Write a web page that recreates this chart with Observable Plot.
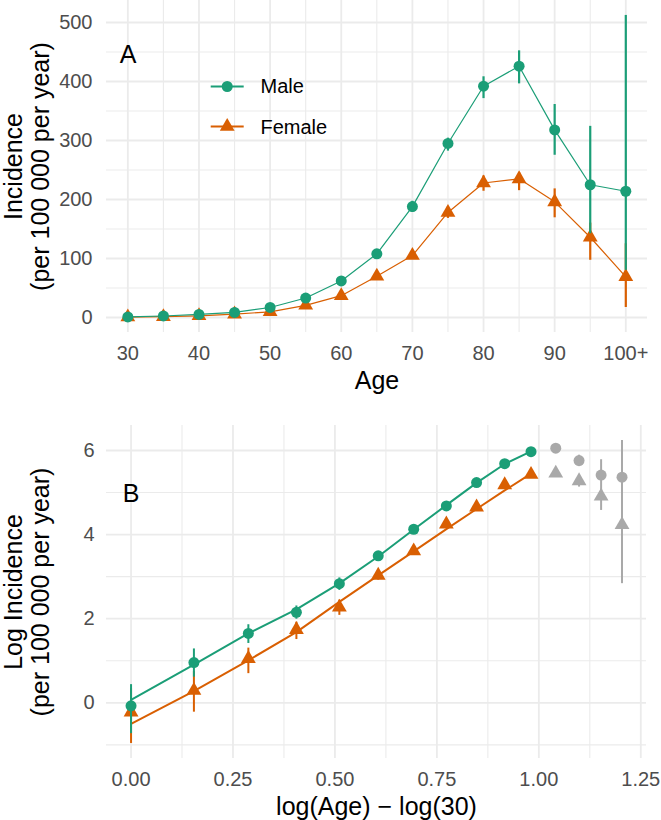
<!DOCTYPE html>
<html><head><meta charset="utf-8">
<script src="https://cdn.jsdelivr.net/npm/d3@7"></script>
<script src="https://cdn.jsdelivr.net/npm/@observablehq/plot@0.6"></script>
<style>body{margin:0;background:#fff} #chart svg{display:block}</style>
</head><body><div id="chart"></div>
<script>
// ---- data ----
const ages = [30,35,40,45,50,55,60,65,70,75,80,85,90,95,100];
const sexes = ["Male", "Female"];
const maleIncidence = [0.93,2.6,5.2,8.6,17,33,62,108,188,295,392,426,318,225,214];
const maleLower     = [0.48,1.84,4.1,7.3,14.5,30,58,102,178,282,371,396,275,142,80];
const maleUpper     = [1.54,3.6,6.4,10,19.5,36,66,114,197,304,408,452,361,324,512];
const femaleIncidence = [0.8,1.34,2.86,5.7,9.7,20.7,37,70,105,178,228,235,196,136,69];
const femaleLower     = [0.38,0.8,2.0,4.5,8.0,18.5,34,65,99,168,214,215,169,97,17];
const femaleUpper     = [1.4,2.1,3.67,6.8,11.5,23,40,75,112,188,240,246,218,160,125];
// fitted log incidence (panel B lines), ages 30–80
const fitMaxAge = 80;
const maleFit   = [0.07,0.91,1.65,2.22,2.84,3.48,4.12,4.70,5.23,5.68,5.98];
const femaleFit = [-0.50,0.28,1.01,1.68,2.40,3.03,3.60,4.13,4.61,5.05,5.45];
// ticks
const aXTicks = [30,40,50,60,70,80,90,100];
const aXTickLabels = ["30","40","50","60","70","80","90","100+"];
const aXMinor = [35,45,55,65,75,85,95];
const aYTicks = [0,100,200,300,400,500];
const aYMinor = [50,150,250,350,450];
const bXTicks = [0,0.25,0.5,0.75,1,1.25];
const bXTickLabels = ["0.00","0.25","0.50","0.75","1.00","1.25"];
const bXMinor = [0.125,0.375,0.625,0.875,1.125];
const bYTicks = [0,2,4,6];
const bYMinor = [-1,1,3,5];

const green = "#1b9e77", orange = "#d95f02", grey = "#a9a9a9", gridCol = "#ebebeb";
const font = "'Liberation Sans', Arial, Helvetica, sans-serif";

const rows = sex => ages.map((age, i) => sex === "Male"
  ? {sex, age, inc: maleIncidence[i], lo: maleLower[i], hi: maleUpper[i]}
  : {sex, age, inc: femaleIncidence[i], lo: femaleLower[i], hi: femaleUpper[i]});
const male = rows("Male"), female = rows("Female");
const lx = d => Math.log(d.age / 30);
const fitRows = (fit) => ages.filter(a => a <= fitMaxAge).map((age, i) => ({age, y: fit[i]}));

const lineSym = {draw(ctx) { ctx.moveTo(-16.5, 0); ctx.lineTo(16.5, 0); }};
const gridMarks = (xMaj, xMin, yMaj, yMin) => [
  Plot.ruleX(xMin, {stroke: gridCol, strokeWidth: 1.1}),
  Plot.ruleY(yMin, {stroke: gridCol, strokeWidth: 1.1}),
  Plot.ruleX(xMaj, {stroke: gridCol, strokeWidth: 1.8}),
  Plot.ruleY(yMaj, {stroke: gridCol, strokeWidth: 1.8})
];
const yTitle = (t) => Plot.text([t], {text: d => d, frameAnchor: "left", dx: -79.6, rotate: -90,
  fontSize: 25, lineHeight: 1.08, fill: "black", textAnchor: "middle", lineAnchor: "middle"});

const style = {fontFamily: font, fontSize: "20px", color: "#4d4d4d", background: "white", overflow: "visible"};

// ---- panel A ----
const plotA = Plot.plot({
  width: 661, height: 400,
  marginLeft: 106, marginRight: 14, marginTop: 0, marginBottom: 68,
  style,
  x: {domain: [27.0, 103.05], ticks: aXTicks, tickFormat: d => aXTickLabels[aXTicks.indexOf(d)], tickSize: 0, tickPadding: 13, label: null},
  y: {domain: [-25.4, 537.3], ticks: aYTicks, tickSize: 0, tickPadding: 14, label: null},
  marks: [
    ...gridMarks(aXTicks, aXMinor, aYTicks, aYMinor),
    Plot.ruleX(female, {x: "age", y1: "lo", y2: "hi", stroke: orange, strokeWidth: 2.2}),
    Plot.line(female, {x: "age", y: "inc", stroke: orange, strokeWidth: 1.2}),
    Plot.dot(female, {x: "age", y: "inc", symbol: "triangle", r: 5.5, fill: orange}),
    Plot.ruleX(male, {x: "age", y1: "lo", y2: "hi", stroke: green, strokeWidth: 2.2}),
    Plot.line(male, {x: "age", y: "inc", stroke: green, strokeWidth: 1.2}),
    Plot.dot(male, {x: "age", y: "inc", symbol: "circle", r: 5.5, fill: green}),
    // legend
    Plot.dot([sexes[0]], {frameAnchor: "top-left", dx: 120.7, dy: 86, symbol: lineSym, r: 5, fill: "none", stroke: green, strokeWidth: 1.8}),
    Plot.dot([sexes[0]], {frameAnchor: "top-left", dx: 120.7, dy: 86, symbol: "circle", r: 5.5, fill: green}),
    Plot.dot([sexes[1]], {frameAnchor: "top-left", dx: 120.7, dy: 126, symbol: lineSym, r: 5, fill: "none", stroke: orange, strokeWidth: 1.8}),
    Plot.dot([sexes[1]], {frameAnchor: "top-left", dx: 120.7, dy: 126, symbol: "triangle", r: 5.5, fill: orange}),
    Plot.text([sexes[0]], {text: d => d, frameAnchor: "top-left", dx: 154, dy: 86.5, textAnchor: "start", lineAnchor: "middle", fontSize: 20, fill: "black"}),
    Plot.text([sexes[1]], {text: d => d, frameAnchor: "top-left", dx: 154, dy: 127, textAnchor: "start", lineAnchor: "middle", fontSize: 20, fill: "black"}),
    // tag and titles
    Plot.text(["A"], {text: d => d, frameAnchor: "top-left", dx: 21.5, dy: 54.5, textAnchor: "middle", lineAnchor: "middle", fontSize: 25, fill: "black"}),
    Plot.text(["Age"], {text: d => d, frameAnchor: "bottom", dy: 48.6, lineAnchor: "middle", fontSize: 25, fill: "black"}),
    yTitle("Incidence\n(per 100 000 per year)")
  ]
});

// ---- panel B ----
const colouredF = female.filter(d => d.age <= fitMaxAge), greyF = female.filter(d => d.age > fitMaxAge);
const colouredM = male.filter(d => d.age <= fitMaxAge), greyM = male.filter(d => d.age > fitMaxAge);
const lny = d => Math.log(d.inc), lnlo = d => Math.log(d.lo), lnhi = d => Math.log(d.hi);
const plotB = Plot.plot({
  width: 661, height: 420,
  marginLeft: 106, marginRight: 15, marginTop: 25, marginBottom: 62,
  style,
  x: {domain: [-0.0602, 1.264], ticks: bXTicks, tickFormat: d => bXTickLabels[bXTicks.indexOf(d)], tickSize: 0, tickPadding: 13, label: null},
  y: {domain: [-1.325, 6.595], ticks: bYTicks, tickSize: 0, tickPadding: 12, label: null},
  marks: [
    ...gridMarks(bXTicks, bXMinor, bYTicks, bYMinor),
    // grey (not fitted) points
    Plot.ruleX(greyF, {x: lx, y1: lnlo, y2: lnhi, stroke: grey, strokeWidth: 2}),
    Plot.ruleX(greyM, {x: lx, y1: lnlo, y2: lnhi, stroke: grey, strokeWidth: 2}),
    Plot.dot(greyF, {x: lx, y: lny, symbol: "triangle", r: 5.5, fill: grey}),
    Plot.dot(greyM, {x: lx, y: lny, symbol: "circle", r: 5.5, fill: grey}),
    // female
    Plot.ruleX(colouredF, {x: lx, y1: lnlo, y2: lnhi, stroke: orange, strokeWidth: 2}),
    Plot.line(fitRows(femaleFit), {x: lx, y: "y", stroke: orange, strokeWidth: 2}),
    Plot.dot(colouredF, {x: lx, y: lny, symbol: "triangle", r: 5.5, fill: orange}),
    // male
    Plot.ruleX(colouredM, {x: lx, y1: lnlo, y2: lnhi, stroke: green, strokeWidth: 2}),
    Plot.line(fitRows(maleFit), {x: lx, y: "y", stroke: green, strokeWidth: 2}),
    Plot.dot(colouredM, {x: lx, y: lny, symbol: "circle", r: 5.5, fill: green}),
    // tag and titles
    Plot.text(["B"], {text: d => d, frameAnchor: "top-left", dx: 24.5, dy: 68.8, textAnchor: "middle", lineAnchor: "middle", fontSize: 25, fill: "black"}),
    Plot.text(["log(Age) \u2212 log(30)"], {text: d => d, frameAnchor: "bottom", dy: 48, lineAnchor: "middle", fontSize: 25, fill: "black"}),
    yTitle("Log Incidence\n(per 100 000 per year)")
  ]
});

const root = document.getElementById("chart");
root.append(plotA, plotB);
</script></body></html>
